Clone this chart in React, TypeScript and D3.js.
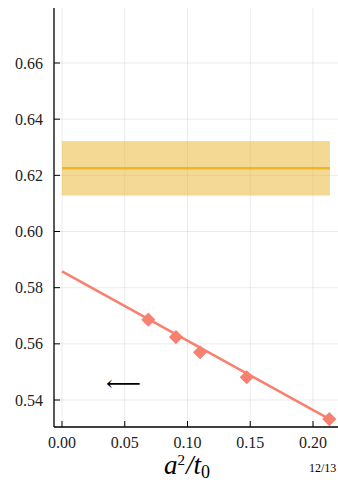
import React, { useRef, useEffect } from "react";
import * as d3 from "d3";

// measured points (a^2/t0, value)
const pointX = [0.0688, 0.0908, 0.110, 0.1472, 0.2130];
const pointY = [0.5686, 0.5624, 0.5570, 0.5481, 0.5332];

// linear fit, drawn between its two ends
const fitX = [0.0, 0.2135];
const fitY = [0.5858, 0.5331];

// reference band
const bandX = [0.0, 0.2135];
const bandMid = 0.6225;
const bandLow = 0.6128;
const bandHigh = 0.6322;

const xTicks = [0.0, 0.05, 0.1, 0.15, 0.2];
const yTicks = [0.54, 0.56, 0.58, 0.6, 0.62, 0.64, 0.66];

const W = 338;
const H = 482;

const App = () => {
  const svgRef = useRef<SVGSVGElement>(null);

  useEffect(() => {
    const svg = d3.select(svgRef.current);
    svg.selectAll("*").remove();

    const left = 54;
    const right = 345;
    const top = 8;
    const bottom = 427;

    const x = d3.scaleLinear().domain([0, 0.2]).range([62, 313]);
    const y = d3.scaleLinear().domain([0.54, 0.66]).range([400, 63]);

    const font = "Liberation Serif, DejaVu Serif, serif";

    // grid
    const grid = svg.append("g").attr("stroke", "#000").attr("stroke-opacity", 0.1).attr("stroke-width", 0.8);
    grid.selectAll(".gx").data(xTicks).enter().append("line")
      .attr("x1", (d) => x(d)).attr("x2", (d) => x(d)).attr("y1", top).attr("y2", bottom);
    grid.selectAll(".gy").data(yTicks).enter().append("line")
      .attr("y1", (d) => y(d)).attr("y2", (d) => y(d)).attr("x1", left).attr("x2", right);

    // band
    svg.append("rect")
      .attr("x", x(bandX[0])).attr("width", x(bandX[1]) - x(bandX[0]))
      .attr("y", y(bandHigh)).attr("height", y(bandLow) - y(bandHigh))
      .attr("fill", "#eab42a").attr("fill-opacity", 0.5);
    svg.append("line")
      .attr("x1", x(bandX[0])).attr("x2", x(bandX[1]))
      .attr("y1", y(bandMid)).attr("y2", y(bandMid))
      .attr("stroke", "#eeb52c").attr("stroke-width", 2.5);

    // fit line
    const line = d3.line<number>().x((d) => x(d)).y((d, i) => y(fitY[i]));
    svg.append("path").attr("d", line(fitX))
      .attr("fill", "none").attr("stroke", "#f88070").attr("stroke-width", 2.5);

    // markers
    const diamond = d3.symbol().type(d3.symbolSquare).size(100);
    svg.selectAll(".pt").data(pointX).enter().append("path")
      .attr("d", diamond)
      .attr("transform", (d, i) => `translate(${x(d)},${y(pointY[i])}) rotate(45)`)
      .attr("fill", "#f88070");

    // arrow
    svg.append("text")
      .attr("x", x(0.0350)).attr("y", y(0.5457))
      .attr("dy", "0.32em")
      .attr("font-family", font).attr("font-size", 22)
      .attr("textLength", 35).attr("lengthAdjust", "spacingAndGlyphs")
      .text("⟵");

    // axes
    svg.append("line").attr("x1", left).attr("x2", left).attr("y1", top).attr("y2", bottom)
      .attr("stroke", "#000").attr("stroke-width", 1.3);
    svg.append("line").attr("x1", left).attr("x2", right).attr("y1", bottom).attr("y2", bottom)
      .attr("stroke", "#000").attr("stroke-width", 1.3);

    svg.selectAll(".tx").data(xTicks).enter().append("line")
      .attr("x1", (d) => x(d)).attr("x2", (d) => x(d)).attr("y1", bottom).attr("y2", bottom - 6)
      .attr("stroke", "#000").attr("stroke-width", 1);
    svg.selectAll(".ty").data(yTicks).enter().append("line")
      .attr("y1", (d) => y(d)).attr("y2", (d) => y(d)).attr("x1", left).attr("x2", left + 6)
      .attr("stroke", "#000").attr("stroke-width", 1);

    svg.selectAll(".lx").data(xTicks).enter().append("text")
      .attr("x", (d) => x(d)).attr("y", 448)
      .attr("text-anchor", "middle")
      .attr("font-family", font).attr("font-size", 16).attr("fill", "#222")
      .text((d) => d.toFixed(2));
    svg.selectAll(".ly").data(yTicks).enter().append("text")
      .attr("x", 43).attr("y", (d) => y(d)).attr("dy", "0.35em")
      .attr("text-anchor", "end")
      .attr("font-family", font).attr("font-size", 16).attr("fill", "#222")
      .text((d) => d.toFixed(2));

    // axis label
    const lab = svg.append("text")
      .attr("x", 164).attr("y", 474)
      .attr("font-family", font).attr("font-size", 27).attr("font-style", "italic");
    lab.append("tspan").text("a");
    lab.append("tspan").attr("font-size", 15).attr("font-style", "normal").attr("dy", -9).text("2");
    lab.append("tspan").attr("dy", 9).attr("dx", 1).text("/t");
    lab.append("tspan").attr("font-size", 18).attr("font-style", "normal").attr("dy", 4).text("0");

    svg.append("text")
      .attr("x", 309).attr("y", 472)
      .attr("font-family", font).attr("font-size", 12)
      .text("12/13");
  }, []);

  return (
    <svg
      ref={svgRef}
      width={W}
      height={H}
      style={{ position: "fixed", left: 0, top: 0, background: "#fff" }}
    ></svg>
  );
};

export default App;
